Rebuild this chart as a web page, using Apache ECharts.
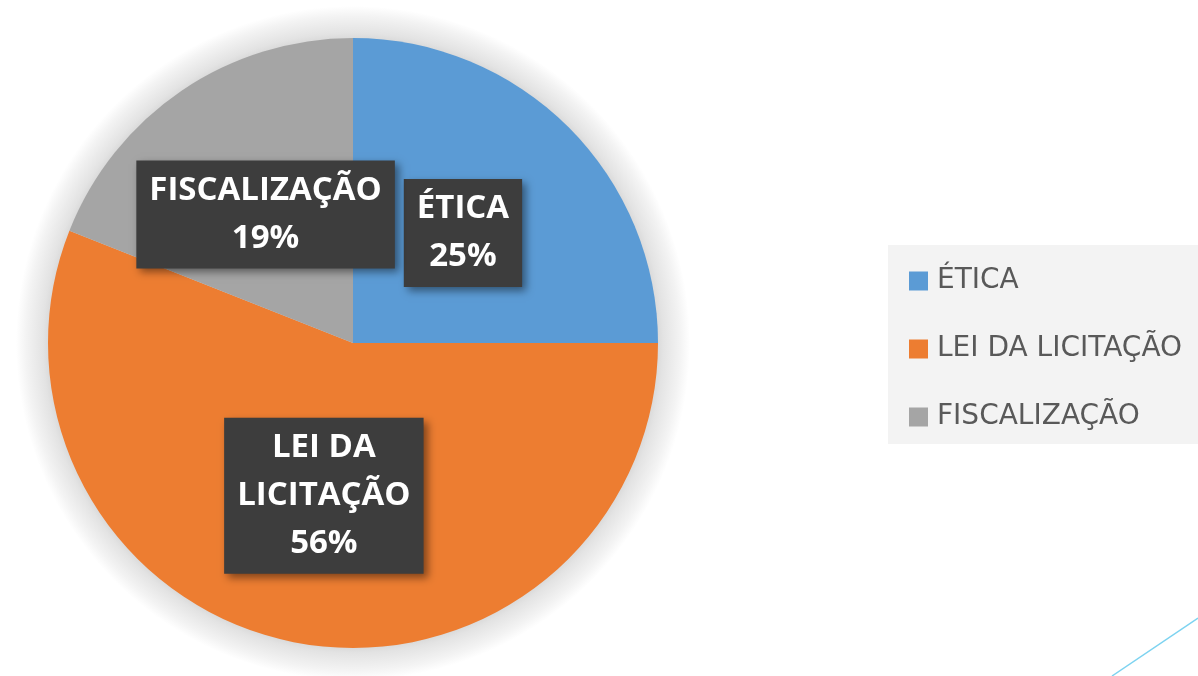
<!DOCTYPE html>
<html>
<head>
<meta charset="utf-8">
<script src="https://cdn.jsdelivr.net/npm/echarts@6/dist/echarts.min.js"></script>
<style>
  html, body { margin: 0; padding: 0; background: #ffffff; }
  #chart { width: 1198px; height: 676px; }
</style>
</head>
<body>
<div id="chart"></div>
<script>
// Share of answers by topic
const categories = ['ÉTICA', 'LEI DA LICITAÇÃO', 'FISCALIZAÇÃO'];
const labelNames = ['ÉTICA', 'LEI DA\nLICITAÇÃO', 'FISCALIZAÇÃO'];
const shares = [25, 56, 19];
const colors = ['#5b9bd5', '#ed7d31', '#a5a5a5'];

const chart = echarts.init(document.getElementById('chart'));

const PIE_CENTER = [353, 343];
const PIE_RADIUS = 305;

const option = {
  backgroundColor: '#ffffff',
  animation: false,
  color: colors,
  legend: {
    orient: 'vertical',
    left: 888,
    top: 245,
    padding: [22, 40, 13, 21],
    backgroundColor: '#f3f3f3',
    itemWidth: 19,
    itemHeight: 19,
    itemGap: 40,
    icon: 'rect',
    selectedMode: false,
    textStyle: {
      fontFamily: 'DejaVu Sans',
      fontSize: 28,
      color: '#595959',
      padding: [0, 0, 0, 4]
    },
    data: categories
  },
  series: [
    {
      // soft halo around the pie
      type: 'pie',
      silent: true,
      z: 1,
      center: PIE_CENTER,
      radius: PIE_RADIUS + 32,
      label: { show: false },
      labelLine: { show: false },
      emphasis: { disabled: true },
      tooltip: { show: false },
      itemStyle: {
        borderWidth: 0,
        color: new echarts.graphic.RadialGradient(0.5, 0.5, 0.5, [
          { offset: 0, color: '#d8d8d8' },
          { offset: 0.9, color: '#d8d8d8' },
          { offset: 0.92, color: '#e3e3e3' },
          { offset: 0.97, color: '#f3f3f3' },
          { offset: 1, color: '#ffffff' }
        ])
      },
      data: [{ value: 1, name: '' }]
    },
    {
      type: 'pie',
      z: 2,
      center: PIE_CENTER,
      radius: PIE_RADIUS,
      startAngle: 90,
      clockwise: true,
      emphasis: { disabled: true },
      itemStyle: { borderWidth: 0 },
      label: {
        show: true,
        position: 'inside',
        formatter: (p) => labelNames[p.dataIndex] + '\n' + p.percent + '%',
        color: '#ffffff',
        fontFamily: 'Open Sans',
        fontWeight: 'bold',
        fontSize: 33,
        lineHeight: 48,
        align: 'center',
        backgroundColor: '#3d3d3d',
        padding: [6, 13],
        shadowColor: 'rgba(0,0,0,0.45)',
        shadowBlur: 8,
        shadowOffsetX: 4,
        shadowOffsetY: 4
      },
      labelLine: { show: false },
      data: categories.map((name, i) => ({ name: name, value: shares[i] }))
    }
  ],
  graphic: [
    {
      type: 'line',
      silent: true,
      shape: { x1: 1112, y1: 676, x2: 1198, y2: 618 },
      style: { stroke: '#7dd3f0', lineWidth: 1.5 }
    }
  ]
};

chart.setOption(option);
</script>
</body>
</html>
